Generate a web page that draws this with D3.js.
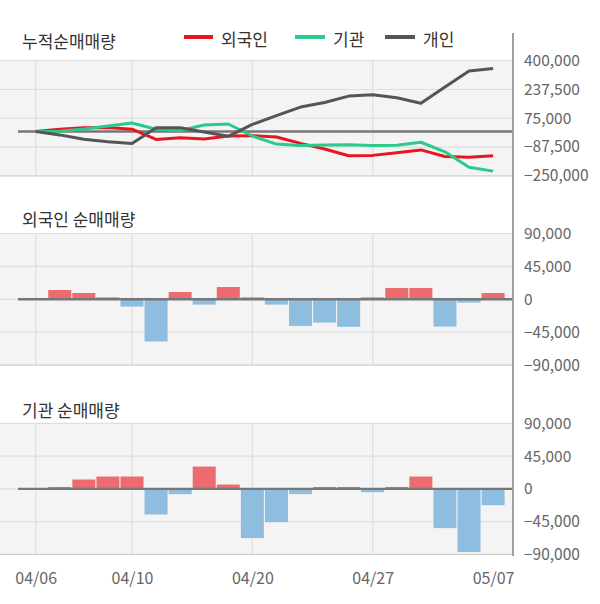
<!DOCTYPE html>
<html>
<head>
<meta charset="utf-8">
<script src="https://cdn.jsdelivr.net/npm/d3@7"></script>
<style>
  html, body { margin: 0; padding: 0; background: #fff; }
  svg { display: block; font-family: "Noto Sans CJK KR", "Noto Sans", sans-serif; }
</style>
</head>
<body>
<svg id="chart" width="600" height="604"></svg>
<script>
// ---- data ----
const dates = ["04/06","04/07","04/08","04/09","04/10","04/13","04/14","04/16","04/17","04/20",
               "04/21","04/22","04/23","04/24","04/27","04/28","04/29","05/04","05/06","05/07"];
const xTickDates = ["04/06","04/10","04/20","04/27","05/07"];
const gridDates = ["04/06","04/10","04/20","04/27"];

// cumulative net buying
const cumForeign = [0, 12700, 21300, 23100, 13100, -44600, -34600, -41900, -25100, -23300,
                    -30600, -67000, -98800, -136500, -134700, -119200, -103700, -141000, -145500, -136900];
const cumInst    = [0, 1800, 14600, 31500, 48400, 13200, 5900, 36500, 42400, -25200,
                    -70900, -78200, -76400, -74600, -79200, -77400, -60500, -114400, -201200, -223600];
const cumIndiv   = [0, -19000, -44000, -58000, -68000, 22000, 21000, -3000, -27000, 40000,
                    90000, 138000, 164000, 200000, 208000, 191000, 160000, 252000, 342000, 356000];

// daily net buying
const dailyForeign = [0, 12700, 8600, 2600, -10000, -57700, 10000, -7300, 16800, 2600,
                      -7300, -36400, -31800, -37700, 2600, 15500, 15500, -37300, -4500, 8600];
const dailyInst    = [0, 2600, 12800, 16900, 16900, -35200, -7300, 30600, 5900, -67600,
                      -45700, -7300, 2600, 2600, -4600, 2600, 16900, -53900, -86800, -22400];

const cumTicks = [400000, 237500, 75000, -87500, -250000];
const barTicks = [90000, 45000, 0, -45000, -90000];

const seriesNames = ["외국인", "기관", "개인"];
const titles = ["누적순매매량", "외국인 순매매량", "기관 순매매량"];

// ---- styles ----
const lineColors = ["#e8161e", "#2bc98a", "#555555"];
const posColor = "#eb6b6f";
const negColor = "#8fbde0";
const plotRight = 513;
const FONT = "'Noto Sans CJK KR', 'Noto Sans', sans-serif";

const svg = d3.select("#chart");
const x = d3.scalePoint().domain(dates).range([35.7, 493.1]);
const fmt = d3.format(",");

function panel(yDomain, yRange, ticks) {
  const y = d3.scaleLinear().domain(yDomain).range(yRange);
  const g = svg.append("g");
  const top = yRange[1], bottom = yRange[0];
  g.append("rect").attr("x", 0).attr("y", top).attr("width", plotRight).attr("height", bottom - top)
    .attr("fill", "#f4f4f4");
  g.selectAll(".hg").data(ticks).enter().append("line")
    .attr("x1", 0).attr("x2", plotRight)
    .attr("y1", d => y(d)).attr("y2", d => y(d))
    .attr("stroke", (d, i) => i === ticks.length - 1 ? "#cfcfcf" : "#dedede").attr("stroke-width", 1.2);
  g.selectAll(".vg").data(gridDates).enter().append("line")
    .attr("x1", d => x(d)).attr("x2", d => x(d))
    .attr("y1", top).attr("y2", bottom)
    .attr("stroke", "#dedede").attr("stroke-width", 1.2);
  const ax = g.append("g").attr("transform", `translate(${plotRight + 7},0)`)
    .call(d3.axisRight(y).tickValues(ticks).tickSize(0).tickPadding(4).tickFormat(fmt));
  ax.select(".domain").remove();
  ax.selectAll("text").attr("fill", "#666").attr("font-size", 15.5).attr("font-family", FONT);
  return { y, g };
}

// ---- panel 1: cumulative lines ----
const p1 = panel([-250000, 400000], [175.8, 60.7], cumTicks);
p1.g.append("line").attr("x1", 18).attr("x2", plotRight)
  .attr("y1", p1.y(0)).attr("y2", p1.y(0)).attr("stroke", "#777").attr("stroke-width", 2.4);
const line1 = d3.line().x((d, i) => x(dates[i])).y(d => p1.y(d));
[cumForeign, cumInst, cumIndiv].forEach((s, k) => {
  p1.g.append("path").datum(s).attr("d", line1).attr("fill", "none")
    .attr("stroke", lineColors[k]).attr("stroke-width", 3).attr("stroke-linejoin", "round");
});

// ---- bar panels ----
function barPanel(data, yRange) {
  const p = panel([-90000, 90000], yRange, barTicks);
  p.g.selectAll(".bar").data(data.map((v, i) => ({ v, d: dates[i] })).filter(o => o.v !== 0))
    .enter().append("rect")
    .attr("x", o => x(o.d) - 11.5).attr("width", 23)
    .attr("y", o => Math.min(p.y(o.v), p.y(0)))
    .attr("height", o => Math.abs(p.y(o.v) - p.y(0)))
    .attr("fill", o => o.v > 0 ? posColor : negColor);
  p.g.append("line").attr("x1", 18).attr("x2", plotRight)
    .attr("y1", p.y(0)).attr("y2", p.y(0)).attr("stroke", "#777").attr("stroke-width", 2.4);
  return p;
}
barPanel(dailyForeign, [365.1, 233.5]);
barPanel(dailyInst, [554.4, 423.3]);

// ---- x axis labels ----
const xa = svg.append("g").attr("transform", "translate(0,573)")
  .call(d3.axisBottom(x).tickValues(xTickDates).tickSize(0).tickPadding(0));
xa.select(".domain").remove();
xa.selectAll("text").attr("fill", "#666").attr("font-size", 16).attr("font-family", FONT);

// ---- right axis line ----
svg.append("line").attr("x1", plotRight).attr("x2", plotRight).attr("y1", 33).attr("y2", 556)
  .attr("stroke", "#a0a0a0").attr("stroke-width", 2);

// ---- titles ----
const titleY = [40, 218, 409];
titles.forEach((t, i) => {
  svg.append("text").attr("x", 22).attr("y", titleY[i]).attr("dominant-baseline", "central")
    .attr("font-size", 17).attr("fill", "#333").attr("font-family", FONT).text(t);
});

// ---- legend ----
const legX = [184, 295, 385];
const legW = [29, 30, 30];
seriesNames.forEach((n, i) => {
  svg.append("line").attr("x1", legX[i]).attr("x2", legX[i] + legW[i])
    .attr("y1", 37).attr("y2", 37).attr("stroke", lineColors[i]).attr("stroke-width", 4);
  svg.append("text").attr("x", legX[i] + legW[i] + 8).attr("y", 38)
    .attr("dominant-baseline", "central").attr("font-size", 17).attr("fill", "#333")
    .attr("font-family", FONT).text(n);
});
</script>
</body>
</html>
